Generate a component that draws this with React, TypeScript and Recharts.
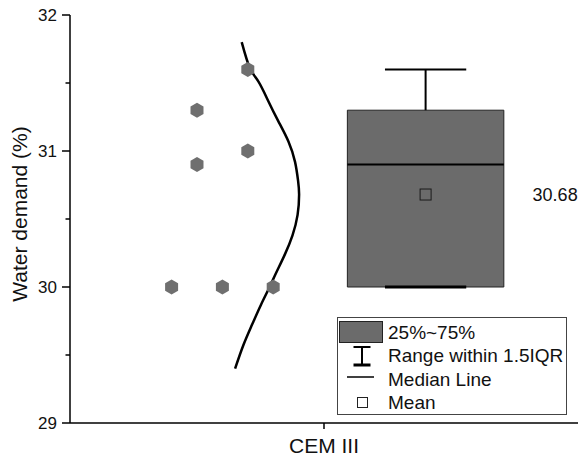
import React from "react";
import {
  ComposedChart,
  Scatter,
  Line,
  XAxis,
  YAxis,
  ReferenceArea,
  ReferenceLine,
  Legend,
} from "recharts";

// raw samples (jittered to the left of the box)
const sampleX = [35, 25, 25, 35, 20, 30, 40];
const sampleValues = [31.6, 31.3, 30.9, 31.0, 30.0, 30.0, 30.0];

// normal curve (value on y, offset on x)
const curveValues = [31.8, 31.61, 31.51, 31.37, 31.22, 31.07, 30.92, 30.78, 30.68, 30.53, 30.38, 30.24, 30.09, 30.0, 29.87, 29.72, 29.57, 29.4];
const curveX = [33.8, 35.4, 37.1, 39.0, 41.0, 43.0, 44.3, 44.9, 45.1, 44.8, 43.8, 42.3, 40.4, 39.3, 37.6, 35.8, 34.1, 32.5];

// box stats
const boxLeft = 54.6;
const boxRight = 85.4;
const boxCenter = 70;
const capHalf = 8;
const q1 = 30.0;
const median = 30.9;
const q3 = 31.3;
const whiskerLow = 30.0;
const whiskerHigh = 31.6;
const mean = 30.68;

const category = "CEM III";
const yTicks = [29, 29.5, 30, 30.5, 31, 31.5, 32];

const samples = sampleX.map((x, i) => ({ x, y: sampleValues[i] }));
const curve = curveX.map((x, i) => ({ x, y: curveValues[i] }));
const meanPoint = [{ x: boxCenter, y: mean }];

const FONT = "'Liberation Sans', Arial, sans-serif";
const GRAY = "#6b6b6b";

const Hexagon = (props: any) => {
  const { cx, cy } = props;
  const r = 7.5;
  const pts = [0, 1, 2, 3, 4, 5]
    .map((k) => {
      const a = (Math.PI / 3) * k - Math.PI / 2;
      return `${cx + r * Math.cos(a)},${cy + r * Math.sin(a)}`;
    })
    .join(" ");
  return <polygon points={pts} fill="#6f6f6f" />;
};

const MeanMark = (props: any) => {
  const { cx, cy } = props;
  return (
    <g>
      <rect x={cx - 5.5} y={cy - 5.5} width={11} height={11} fill="none" stroke="#1a1a1a" strokeWidth={1} />
      <text x={cx + 107} y={cy} dy="0.35em" fontSize={18} fontFamily={FONT} fill="#111">
        {mean.toFixed(2)}
      </text>
    </g>
  );
};

const YTick = (props: any) => {
  const { x, y, payload } = props;
  const major = Number.isInteger(payload.value);
  return (
    <g>
      <line x1={x - (major ? 8 : 4.5)} x2={x} y1={y} y2={y} stroke="#000" strokeWidth={1.5} />
      {major && (
        <text x={x - 13} y={y} dy="0.35em" textAnchor="end" fontSize={17} fontFamily={FONT} fill="#111">
          {payload.value}
        </text>
      )}
    </g>
  );
};

const XTick = (props: any) => {
  const { x, y } = props;
  return (
    <g>
      <line x1={x} x2={x} y1={y} y2={y + 6} stroke="#000" strokeWidth={1.5} />
      <text x={x} y={y + 30} textAnchor="middle" fontSize={21} fontFamily={FONT} fill="#111">
        {category}
      </text>
    </g>
  );
};

const YLabel = (props: any) => {
  const { viewBox } = props;
  const cx = viewBox.x + 27;
  const cy = viewBox.y + viewBox.height / 2 - 5;
  return (
    <text
      x={cx}
      y={cy}
      textAnchor="middle"
      transform={`rotate(-90, ${cx}, ${cy})`}
      fontSize={21}
      fontFamily={FONT}
      fill="#111"
    >
      Water demand (%)
    </text>
  );
};

const legendRows = ["25%~75%", "Range within 1.5IQR", "Median Line", "Mean"];

const BoxLegend = () => (
  <div style={{ width: 230, height: 98, border: "1px solid #444", background: "#fff", boxSizing: "border-box" }}>
    <svg width={228} height={96} style={{ display: "block" }}>
      <rect x={1.5} y={3.5} width={43} height={21} fill={GRAY} stroke="#222" strokeWidth={1} />
      <line x1={24} x2={24} y1={29} y2={47} stroke="#000" strokeWidth={2} />
      <line x1={15.5} x2={32.5} y1={29} y2={29} stroke="#000" strokeWidth={2} />
      <line x1={15.5} x2={32.5} y1={47} y2={47} stroke="#000" strokeWidth={3} />
      <line x1={9} x2={36} y1={59} y2={59} stroke="#000" strokeWidth={1.5} />
      <rect x={19.5} y={79.5} width={10} height={10} fill="none" stroke="#222" strokeWidth={1} />
      {legendRows.map((t, i) => (
        <text key={t} x={50} y={21 + i * 23.3} fontSize={19} fontFamily={FONT} fill="#111">
          {t}
        </text>
      ))}
    </svg>
  </div>
);

export default function App() {
  return (
    <div style={{ position: "absolute", left: 0, top: 0, width: 580, height: 460, background: "#fff" }}>
      <ComposedChart width={580} height={460} margin={{ top: 15, right: 2, bottom: 0, left: 0 }}>
        <XAxis
          type="number"
          dataKey="x"
          domain={[0, 100]}
          ticks={[50]}
          height={37}
          tickSize={0}
          tickMargin={0}
          tick={<XTick />}
          axisLine={{ stroke: "#000", strokeWidth: 1.5 }}
          allowDataOverflow
        />
        <YAxis
          type="number"
          dataKey="y"
          domain={[29, 32]}
          ticks={yTicks}
          interval={0}
          width={70}
          tickSize={0}
          tickMargin={0}
          tick={<YTick />}
          axisLine={{ stroke: "#000", strokeWidth: 1.5 }}
          label={{ content: <YLabel /> }}
          allowDataOverflow
        />
        <ReferenceArea
          x1={boxLeft}
          x2={boxRight}
          y1={q1}
          y2={q3}
          fill={GRAY}
          fillOpacity={1}
          stroke="#222"
          strokeWidth={1}
        />
        <ReferenceLine
          segment={[{ x: boxLeft, y: median }, { x: boxRight, y: median }]}
          stroke="#000"
          strokeWidth={2}
        />
        <ReferenceLine
          segment={[{ x: boxCenter, y: q3 }, { x: boxCenter, y: whiskerHigh }]}
          stroke="#000"
          strokeWidth={2}
        />
        <ReferenceLine
          segment={[{ x: boxCenter - capHalf, y: whiskerHigh }, { x: boxCenter + capHalf, y: whiskerHigh }]}
          stroke="#000"
          strokeWidth={2}
        />
        <ReferenceLine
          segment={[{ x: boxCenter - capHalf, y: whiskerLow }, { x: boxCenter + capHalf, y: whiskerLow }]}
          stroke="#000"
          strokeWidth={3}
        />
        <Scatter data={samples} shape={<Hexagon />} isAnimationActive={false} />
        <Line
          data={curve}
          dataKey="y"
          type="natural"
          stroke="#000"
          strokeWidth={2.5}
          dot={false}
          activeDot={false}
          isAnimationActive={false}
        />
        <Scatter data={meanPoint} shape={<MeanMark />} isAnimationActive={false} />
        <Legend
          content={<BoxLegend />}
          layout="horizontal"
          verticalAlign="middle"
          align="center"
          wrapperStyle={{ left: 337, top: 317, width: 230, height: 98 }}
        />
      </ComposedChart>
    </div>
  );
}
